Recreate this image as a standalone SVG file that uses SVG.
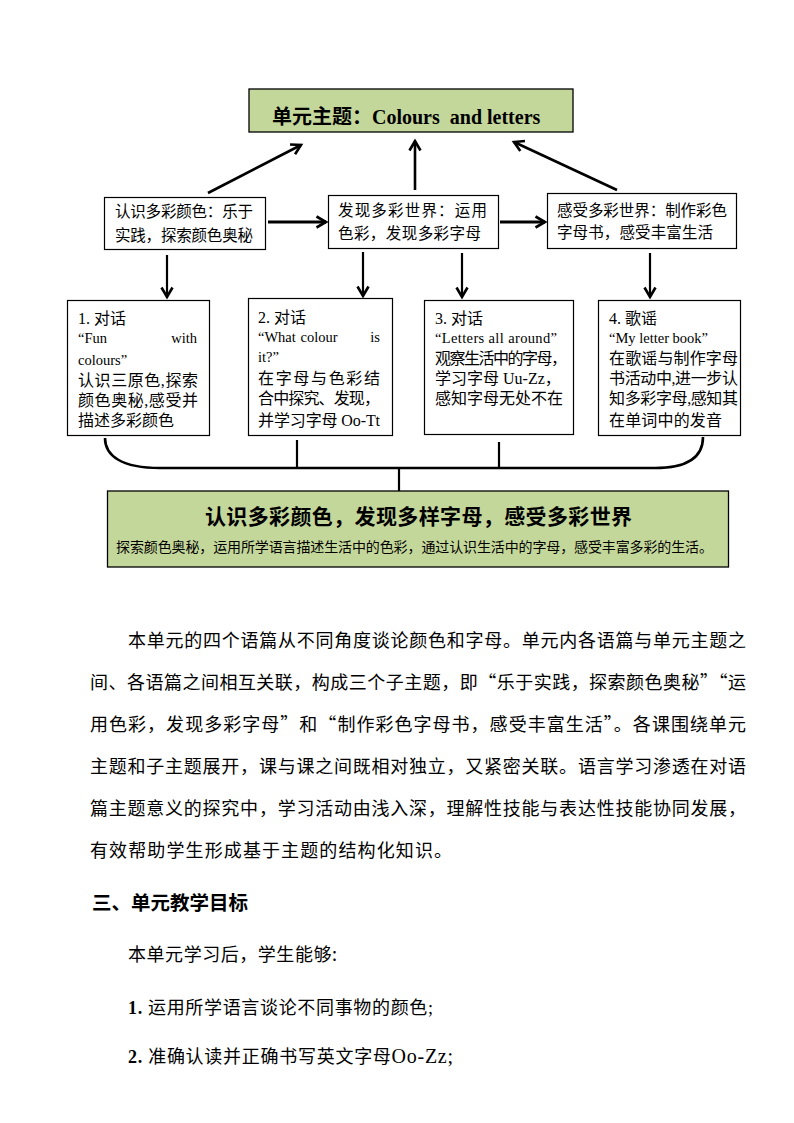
<svg xmlns="http://www.w3.org/2000/svg" width="794" height="1123" viewBox="0 0 794 1123">
<style>
.box{fill:#fff;stroke:#000;stroke-width:1.2}
.green{fill:#c4d79b;stroke:#000;stroke-width:1.3}
.cj{font-family:"Noto Sans CJK SC",sans-serif;fill:#000}
.mx{font-family:"Liberation Serif","Noto Sans CJK SC",serif;fill:#000}
.ln{stroke:#000;fill:none;stroke-linecap:butt}
.t15{font-size:15.5px}
.t16{font-size:16px}
.e14{font-size:14.5px}
.p18{font-size:18px}
</style>
<defs>
<marker id="ah" markerUnits="userSpaceOnUse" markerWidth="16" markerHeight="16" refX="11" refY="7" orient="auto">
<path d="M1.5,1.5 L11,7 L1.5,12.5" fill="none" stroke="#000" stroke-width="2.6"/>
</marker>
</defs>
<rect width="794" height="1123" fill="#fff"/>

<g id="connectors">
<line class="ln" x1="208" y1="193" x2="301" y2="145" stroke-width="2.6" marker-end="url(#ah)"/>
<line class="ln" x1="415" y1="190" x2="415" y2="141" stroke-width="2.6" marker-end="url(#ah)"/>
<line class="ln" x1="617" y1="190" x2="514" y2="142" stroke-width="2.6" marker-end="url(#ah)"/>
<line class="ln" x1="268" y1="222" x2="326" y2="222" stroke-width="3" marker-end="url(#ah)"/>
<line class="ln" x1="500" y1="222" x2="545" y2="222" stroke-width="3" marker-end="url(#ah)"/>
<line class="ln" x1="167" y1="255" x2="167" y2="297" stroke-width="2.2" marker-end="url(#ah)"/>
<line class="ln" x1="363" y1="252" x2="363" y2="296" stroke-width="2.2" marker-end="url(#ah)"/>
<line class="ln" x1="462" y1="253" x2="462" y2="297" stroke-width="2.2" marker-end="url(#ah)"/>
<line class="ln" x1="650" y1="253" x2="650" y2="297" stroke-width="2.2" marker-end="url(#ah)"/>
<path class="ln" stroke-width="2.6" d="M105,438 C105,456 122,468 160,468 L655,468 C690,468 703,456 703,437"/>
<line class="ln" stroke-width="2.2" x1="297" y1="440" x2="297" y2="468"/>
<line class="ln" stroke-width="2.2" x1="499" y1="442" x2="499" y2="468"/>
<line class="ln" stroke-width="2.2" x1="399" y1="468" x2="399" y2="491"/>
</g>

<g id="theme">
<rect class="green" x="249" y="89" width="324" height="43"/>
<text x="272" y="124" font-weight="bold"><tspan class="cj" font-size="20px">单元主题：</tspan><tspan font-family="Liberation Serif,serif" font-size="20px" xml:space="preserve">Colours  and letters</tspan></text>
</g>

<g id="sub1">
<rect class="box" x="104.5" y="197.5" width="161" height="52"/>
<text class="cj t15" x="115" y="217" textLength="138" lengthAdjust="spacing">认识多彩颜色：乐于</text>
<text class="cj t15" x="115" y="241" textLength="138" lengthAdjust="spacing">实践，探索颜色奥秘</text>
</g>
<g id="sub2">
<rect class="box" x="328.5" y="195.5" width="170" height="53"/>
<text class="cj t15" x="338" y="216" textLength="149" lengthAdjust="spacing">发现多彩世界：运用</text>
<text class="cj t15" x="338" y="239" textLength="143" lengthAdjust="spacing">色彩，发现多彩字母</text>
</g>
<g id="sub3">
<rect class="box" x="547.5" y="193.5" width="189" height="55"/>
<text class="cj t15" x="557" y="216" textLength="170" lengthAdjust="spacing">感受多彩世界：制作彩色</text>
<text class="cj t15" x="557" y="238" textLength="156" lengthAdjust="spacing">字母书，感受丰富生活</text>
</g>

<g id="lesson1">
<rect class="box" x="67.5" y="300.5" width="142" height="135"/>
<text class="mx t16" x="78" y="324">1. 对话</text>
<text class="mx e14" x="78" y="343">“Fun</text>
<text class="mx e14" x="197" y="343" text-anchor="end">with</text>
<text class="mx e14" x="78" y="365">colours”</text>
<text class="mx t16" x="78" y="386" textLength="120" lengthAdjust="spacing">认识三原色,探索</text>
<text class="mx t16" x="78" y="406" textLength="120" lengthAdjust="spacing">颜色奥秘,感受并</text>
<text class="mx t16" x="78" y="426">描述多彩颜色</text>
</g>
<g id="lesson2">
<rect class="box" x="248.5" y="298.5" width="144" height="137"/>
<text class="mx t16" x="258" y="323">2. 对话</text>
<text class="mx e14" x="258" y="342">“What</text>
<text class="mx e14" x="319" y="342" text-anchor="middle">colour</text>
<text class="mx e14" x="380" y="342" text-anchor="end">is</text>
<text class="mx e14" x="258" y="362">it?”</text>
<text class="mx t16" x="258" y="384" textLength="122" lengthAdjust="spacing">在字母与色彩结</text>
<text class="mx t16" x="258" y="404" textLength="122" lengthAdjust="spacing">合中探究、发现，</text>
<text class="mx t16" x="258" y="426" textLength="122" lengthAdjust="spacing">并学习字母 Oo-Tt</text>
</g>
<g id="lesson3">
<rect class="box" x="424.5" y="300.5" width="149" height="134"/>
<text class="mx t16" x="435" y="324">3. 对话</text>
<text class="mx e14" x="435" y="343" textLength="122" lengthAdjust="spacing">“Letters all around”</text>
<text class="mx t16" x="435" y="364" textLength="132" lengthAdjust="spacing">观察生活中的字母，</text>
<text class="mx t16" x="435" y="384">学习字母 Uu-Zz，</text>
<text class="mx t16" x="435" y="404" textLength="128" lengthAdjust="spacing">感知字母无处不在</text>
</g>
<g id="lesson4">
<rect class="box" x="598.5" y="300.5" width="142" height="135"/>
<text class="mx t16" x="609" y="324">4. 歌谣</text>
<text class="mx e14" x="609" y="343">“My letter book”</text>
<text class="mx t16" x="609" y="364" textLength="129" lengthAdjust="spacing">在歌谣与制作字母</text>
<text class="mx t16" x="609" y="384" textLength="129" lengthAdjust="spacing">书活动中,进一步认</text>
<text class="mx t16" x="609" y="404" textLength="129" lengthAdjust="spacing">知多彩字母,感知其</text>
<text class="mx t16" x="609" y="426" textLength="113" lengthAdjust="spacing">在单词中的发音</text>
</g>

<g id="summary">
<rect class="green" x="107.5" y="491" width="621" height="76"/>
<text class="cj" x="205" y="524" font-size="21px" font-weight="bold" textLength="427" lengthAdjust="spacing">认识多彩颜色，发现多样字母，感受多彩世界</text>
<text class="cj" x="116" y="552" font-size="14px" textLength="597" lengthAdjust="spacing">探索颜色奥秘，运用所学语言描述生活中的色彩，通过认识生活中的字母，感受丰富多彩的生活。</text>
</g>

<g id="body">
<text class="cj p18" x="128" y="647" textLength="618" lengthAdjust="spacing">本单元的四个语篇从不同角度谈论颜色和字母。单元内各语篇与单元主题之</text>
<text class="cj p18" x="90" y="689" textLength="656" lengthAdjust="spacing">间、各语篇之间相互关联，构成三个子主题，即“乐于实践，探索颜色奥秘”“运</text>
<text class="cj p18" x="90" y="731" textLength="656" lengthAdjust="spacing">用色彩，发现多彩字母”和“制作彩色字母书，感受丰富生活”。各课围绕单元</text>
<text class="cj p18" x="90" y="773" textLength="656" lengthAdjust="spacing">主题和子主题展开，课与课之间既相对独立，又紧密关联。语言学习渗透在对语</text>
<text class="cj p18" x="90" y="815" textLength="656" lengthAdjust="spacing">篇主题意义的探究中，学习活动由浅入深，理解性技能与表达性技能协同发展，</text>
<text class="cj p18" x="90" y="857" textLength="362" lengthAdjust="spacing">有效帮助学生形成基于主题的结构化知识。</text>
<text class="cj" x="92" y="910" font-size="19.5px" font-weight="bold">三、单元教学目标</text>
<text class="cj p18" x="128" y="961" textLength="209" lengthAdjust="spacing">本单元学习后，学生能够:</text>
<text class="mx p18" x="128" y="1014" textLength="305" lengthAdjust="spacing"><tspan font-weight="bold">1.</tspan> 运用所学语言谈论不同事物的颜色;</text>
<text class="mx p18" x="128" y="1063" textLength="325" lengthAdjust="spacing"><tspan font-weight="bold">2.</tspan> 准确认读并正确书写英文字母<tspan font-size="20px">Oo-Zz;</tspan></text>
</g>
</svg>
